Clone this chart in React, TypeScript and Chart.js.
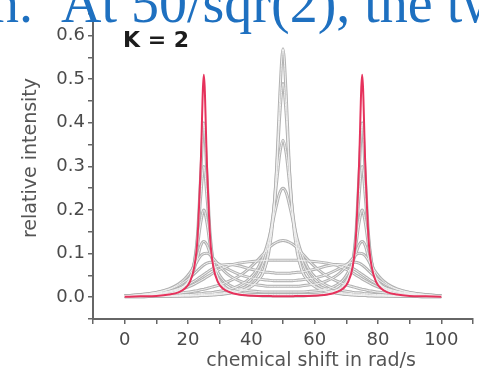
import React, { useEffect, useRef } from 'react';
import { Chart, registerables } from 'chart.js';

Chart.register(...registerables);

// chemical shift sample positions (rad/s)
const SHIFT = [0, 5, 10, 14, 17, 19, 20.5, 22, 23, 24, 25, 26, 27, 28, 29.5, 31, 33, 36, 39, 42, 44, 45.5, 47, 48, 49, 50, 51, 52, 53, 54.5, 56, 58, 61, 64, 67, 69, 70.5, 72, 73, 74, 75, 76, 77, 78, 79.5, 81, 83, 86, 90, 95, 100];

// highlighted spectrum (K = 2)
const RED = [0.001, 0.002, 0.003, 0.006, 0.011, 0.020, 0.034, 0.070, 0.135, 0.301, 0.510, 0.301, 0.135, 0.070, 0.034, 0.020, 0.012, 0.006, 0.004, 0.003, 0.003, 0.003, 0.002, 0.002, 0.002, 0.002, 0.002, 0.002, 0.002, 0.003, 0.003, 0.003, 0.004, 0.006, 0.012, 0.020, 0.034, 0.070, 0.135, 0.301, 0.510, 0.301, 0.135, 0.070, 0.034, 0.020, 0.011, 0.006, 0.003, 0.002, 0.001];

// family of gray spectra
const G1 = [0.001, 0.001, 0.002, 0.002, 0.002, 0.003, 0.003, 0.003, 0.003, 0.004, 0.004, 0.004, 0.005, 0.005, 0.006, 0.007, 0.009, 0.013, 0.020, 0.037, 0.062, 0.102, 0.188, 0.299, 0.465, 0.570, 0.465, 0.299, 0.188, 0.102, 0.062, 0.037, 0.020, 0.013, 0.009, 0.007, 0.006, 0.005, 0.005, 0.004, 0.004, 0.004, 0.003, 0.003, 0.003, 0.003, 0.002, 0.002, 0.002, 0.001, 0.001];
const G2 = [0.001, 0.001, 0.002, 0.002, 0.003, 0.003, 0.003, 0.004, 0.004, 0.004, 0.005, 0.005, 0.005, 0.006, 0.007, 0.008, 0.010, 0.014, 0.022, 0.038, 0.061, 0.111, 0.195, 0.293, 0.419, 0.490, 0.419, 0.293, 0.195, 0.111, 0.061, 0.038, 0.022, 0.014, 0.010, 0.008, 0.007, 0.006, 0.005, 0.005, 0.005, 0.004, 0.004, 0.004, 0.003, 0.003, 0.003, 0.002, 0.002, 0.001, 0.001];
const G3 = [0.002, 0.002, 0.003, 0.003, 0.004, 0.004, 0.004, 0.005, 0.005, 0.006, 0.006, 0.007, 0.007, 0.008, 0.009, 0.010, 0.013, 0.018, 0.028, 0.053, 0.084, 0.127, 0.198, 0.264, 0.330, 0.360, 0.330, 0.264, 0.198, 0.127, 0.084, 0.053, 0.028, 0.018, 0.013, 0.010, 0.009, 0.008, 0.007, 0.007, 0.006, 0.006, 0.005, 0.005, 0.004, 0.004, 0.004, 0.003, 0.003, 0.002, 0.002];
const G4 = [0.002, 0.003, 0.004, 0.004, 0.005, 0.006, 0.006, 0.007, 0.008, 0.008, 0.009, 0.010, 0.010, 0.011, 0.013, 0.015, 0.018, 0.026, 0.040, 0.066, 0.098, 0.133, 0.180, 0.213, 0.240, 0.250, 0.240, 0.213, 0.180, 0.133, 0.098, 0.066, 0.040, 0.026, 0.018, 0.015, 0.013, 0.011, 0.010, 0.010, 0.009, 0.008, 0.008, 0.007, 0.006, 0.006, 0.005, 0.004, 0.004, 0.003, 0.002];
const G5 = [0.003, 0.004, 0.005, 0.007, 0.009, 0.011, 0.012, 0.014, 0.015, 0.017, 0.018, 0.020, 0.022, 0.024, 0.027, 0.031, 0.037, 0.048, 0.064, 0.085, 0.101, 0.113, 0.122, 0.126, 0.129, 0.130, 0.129, 0.126, 0.122, 0.113, 0.101, 0.085, 0.064, 0.048, 0.037, 0.031, 0.027, 0.024, 0.022, 0.020, 0.018, 0.017, 0.015, 0.014, 0.012, 0.011, 0.009, 0.007, 0.005, 0.004, 0.003];
const G6 = [0.003, 0.005, 0.008, 0.012, 0.017, 0.021, 0.025, 0.030, 0.034, 0.038, 0.042, 0.047, 0.051, 0.056, 0.062, 0.067, 0.073, 0.078, 0.081, 0.083, 0.084, 0.085, 0.085, 0.085, 0.085, 0.085, 0.085, 0.085, 0.085, 0.085, 0.084, 0.083, 0.081, 0.078, 0.073, 0.067, 0.062, 0.056, 0.051, 0.047, 0.042, 0.038, 0.034, 0.030, 0.025, 0.021, 0.017, 0.012, 0.008, 0.005, 0.003];
const G7 = [0.003, 0.005, 0.009, 0.014, 0.020, 0.026, 0.031, 0.037, 0.042, 0.047, 0.052, 0.057, 0.062, 0.066, 0.071, 0.074, 0.075, 0.072, 0.066, 0.061, 0.058, 0.057, 0.056, 0.055, 0.055, 0.055, 0.055, 0.055, 0.056, 0.057, 0.058, 0.061, 0.066, 0.072, 0.075, 0.074, 0.071, 0.066, 0.062, 0.057, 0.052, 0.047, 0.042, 0.037, 0.031, 0.026, 0.020, 0.014, 0.009, 0.005, 0.003];
const G8 = [0.003, 0.006, 0.011, 0.018, 0.027, 0.036, 0.044, 0.054, 0.061, 0.068, 0.074, 0.078, 0.080, 0.080, 0.077, 0.071, 0.063, 0.053, 0.046, 0.042, 0.040, 0.039, 0.038, 0.038, 0.038, 0.038, 0.038, 0.038, 0.038, 0.039, 0.040, 0.042, 0.046, 0.053, 0.063, 0.071, 0.077, 0.080, 0.080, 0.078, 0.074, 0.068, 0.061, 0.054, 0.044, 0.036, 0.027, 0.018, 0.011, 0.006, 0.003];
const G9 = [0.003, 0.006, 0.011, 0.019, 0.030, 0.042, 0.055, 0.072, 0.084, 0.095, 0.100, 0.101, 0.097, 0.089, 0.076, 0.063, 0.050, 0.038, 0.031, 0.028, 0.026, 0.025, 0.025, 0.025, 0.025, 0.025, 0.025, 0.025, 0.025, 0.025, 0.026, 0.028, 0.031, 0.038, 0.050, 0.063, 0.076, 0.089, 0.097, 0.101, 0.100, 0.095, 0.084, 0.072, 0.055, 0.042, 0.030, 0.019, 0.011, 0.006, 0.003];
const G10 = [0.003, 0.004, 0.007, 0.012, 0.019, 0.028, 0.040, 0.066, 0.090, 0.118, 0.128, 0.120, 0.100, 0.080, 0.056, 0.040, 0.028, 0.019, 0.015, 0.013, 0.012, 0.012, 0.012, 0.012, 0.012, 0.012, 0.012, 0.012, 0.012, 0.012, 0.012, 0.013, 0.015, 0.019, 0.028, 0.040, 0.056, 0.080, 0.100, 0.120, 0.128, 0.118, 0.090, 0.066, 0.040, 0.028, 0.019, 0.012, 0.007, 0.004, 0.003];
const G11 = [0.003, 0.004, 0.006, 0.009, 0.016, 0.028, 0.044, 0.078, 0.118, 0.170, 0.200, 0.170, 0.118, 0.078, 0.045, 0.029, 0.017, 0.010, 0.007, 0.006, 0.006, 0.006, 0.006, 0.006, 0.006, 0.006, 0.006, 0.006, 0.006, 0.006, 0.006, 0.006, 0.007, 0.010, 0.017, 0.029, 0.045, 0.078, 0.118, 0.170, 0.200, 0.170, 0.118, 0.078, 0.044, 0.028, 0.016, 0.009, 0.006, 0.004, 0.003];
const G12 = [0.002, 0.003, 0.005, 0.008, 0.015, 0.025, 0.041, 0.079, 0.134, 0.229, 0.300, 0.229, 0.134, 0.079, 0.042, 0.026, 0.016, 0.009, 0.006, 0.005, 0.005, 0.004, 0.004, 0.004, 0.004, 0.004, 0.004, 0.004, 0.004, 0.004, 0.005, 0.005, 0.006, 0.009, 0.016, 0.026, 0.042, 0.079, 0.134, 0.229, 0.300, 0.229, 0.134, 0.079, 0.041, 0.025, 0.015, 0.008, 0.005, 0.003, 0.002];
const G13 = [0.002, 0.002, 0.004, 0.007, 0.014, 0.024, 0.040, 0.080, 0.144, 0.277, 0.400, 0.277, 0.144, 0.080, 0.041, 0.024, 0.015, 0.008, 0.005, 0.004, 0.003, 0.003, 0.003, 0.003, 0.003, 0.003, 0.003, 0.003, 0.003, 0.003, 0.003, 0.004, 0.005, 0.008, 0.015, 0.024, 0.041, 0.080, 0.144, 0.277, 0.400, 0.277, 0.144, 0.080, 0.040, 0.024, 0.014, 0.007, 0.004, 0.002, 0.002];
const GRAY_SERIES = [G1, G2, G3, G4, G5, G6, G7, G8, G9, G10, G11, G12, G13];

const X_LABELS = [0, 20, 40, 60, 80, 100];
const Y_LABELS = ['0.0', '0.1', '0.2', '0.3', '0.4', '0.5', '0.6'];
const X_TITLE = 'chemical shift in rad/s';
const Y_TITLE = 'relative intensity';
const PANEL_LABEL = 'K = 2';
const PAGE_TEXT_A = 'n.';
const PAGE_TEXT_B = 'At 50/sqr(2), the tw';

const FONT = '"DejaVu Sans", sans-serif';

export default function App() {
  const ref = useRef<HTMLCanvasElement>(null);

  useEffect(() => {
    document.body.style.margin = '0';
    const canvas = ref.current;
    if (!canvas) return;
    const toPts = (ys: number[]) => SHIFT.map((x, i) => ({ x, y: ys[i] }));

    const lineBase = { pointRadius: 0, cubicInterpolationMode: 'monotone' };
    const datasets: any[] = [
      { ...lineBase, label: PANEL_LABEL, data: toPts(RED), borderColor: '#e6325c', borderWidth: 2, order: 0 },
      // light inner strokes of the gray spectra
      ...GRAY_SERIES.map((g, i) => ({
        ...lineBase,
        label: 'inner ' + (i + 1),
        data: toPts(g),
        borderColor: '#f1f1f1',
        borderWidth: 1,
        order: 1,
      })),
      // gray outlines
      ...GRAY_SERIES.map((g, i) => ({
        ...lineBase,
        label: 'spectrum ' + (i + 1),
        data: toPts(g),
        borderColor: '#b2b2b2',
        borderWidth: 3,
        order: 2,
      })),
    ];

    const textPlugin = {
      id: 'pageTexts',
      afterDraw(chart: any) {
        const ctx = chart.ctx as CanvasRenderingContext2D;
        ctx.save();
        ctx.fillStyle = '#555555';
        ctx.font = '19px ' + FONT;
        ctx.textAlign = 'center';
        ctx.textBaseline = 'middle';
        ctx.fillText(X_TITLE, 311, 361);
        ctx.translate(31, 158);
        ctx.rotate(-Math.PI / 2);
        ctx.fillText(Y_TITLE, 0, 0);
        ctx.restore();
        ctx.save();
        ctx.fillStyle = '#1c1c1c';
        ctx.font = 'bold 22px ' + FONT;
        ctx.textAlign = 'left';
        ctx.textBaseline = 'alphabetic';
        ctx.fillText(PANEL_LABEL, 123, 47);
        ctx.restore();
      },
    };

    const chart = new Chart(canvas, {
      type: 'line',
      data: { datasets },
      options: {
        animation: false,
        responsive: false,
        events: [],
        layout: { padding: { left: 0, top: 11, right: 3, bottom: 0 } },
        plugins: { legend: { display: false }, tooltip: { enabled: false } },
        scales: {
          x: {
            type: 'linear',
            min: -10,
            max: 110,
            afterFit: (s: any) => { s.height = 52; },
            ticks: {
              stepSize: 10,
              autoSkip: false,
              maxRotation: 0,
              padding: 6,
              color: '#4a4a4a',
              font: { family: FONT, size: 18 },
              callback: (v: any) => {
                const n = Math.round(Number(v));
                return X_LABELS.includes(n) ? String(n) : '';
              },
            },
            grid: { drawOnChartArea: false, drawTicks: true, tickLength: 5, color: '#666666', lineWidth: 1.5 },
            border: { display: true, color: '#666666', width: 2 },
          },
          y: {
            type: 'linear',
            min: -0.05,
            max: 0.65,
            afterFit: (s: any) => { s.width = 93; },
            ticks: {
              stepSize: 0.05,
              autoSkip: false,
              padding: 3,
              color: '#4a4a4a',
              font: { family: FONT, size: 18 },
              callback: (v: any) => {
                const r = Math.round(Number(v) * 100);
                if (r % 10 !== 0 || r < 0) return '';
                return Y_LABELS[r / 10] ?? '';
              },
            },
            grid: { drawOnChartArea: false, drawTicks: true, tickLength: 5, color: '#666666', lineWidth: 1.5 },
            border: { display: true, color: '#666666', width: 2 },
          },
        },
      },
      plugins: [textPlugin],
    });
    return () => chart.destroy();
  }, []);

  const pageText: React.CSSProperties = {
    position: 'absolute',
    top: -25,
    fontFamily: '"Liberation Serif", serif',
    fontSize: 56,
    lineHeight: '56px',
    color: '#1e70c0',
    whiteSpace: 'nowrap',
  };

  return (
    <div style={{ position: 'fixed', left: 0, top: 0, width: 479, height: 371, overflow: 'hidden', background: '#ffffff' }}>
      <canvas ref={ref} width={479} height={371} style={{ display: 'block' }} />
      <div style={{ ...pageText, left: -9 }}>{PAGE_TEXT_A}</div>
      <div style={{ ...pageText, left: 61 }}>{PAGE_TEXT_B}</div>
    </div>
  );
}
